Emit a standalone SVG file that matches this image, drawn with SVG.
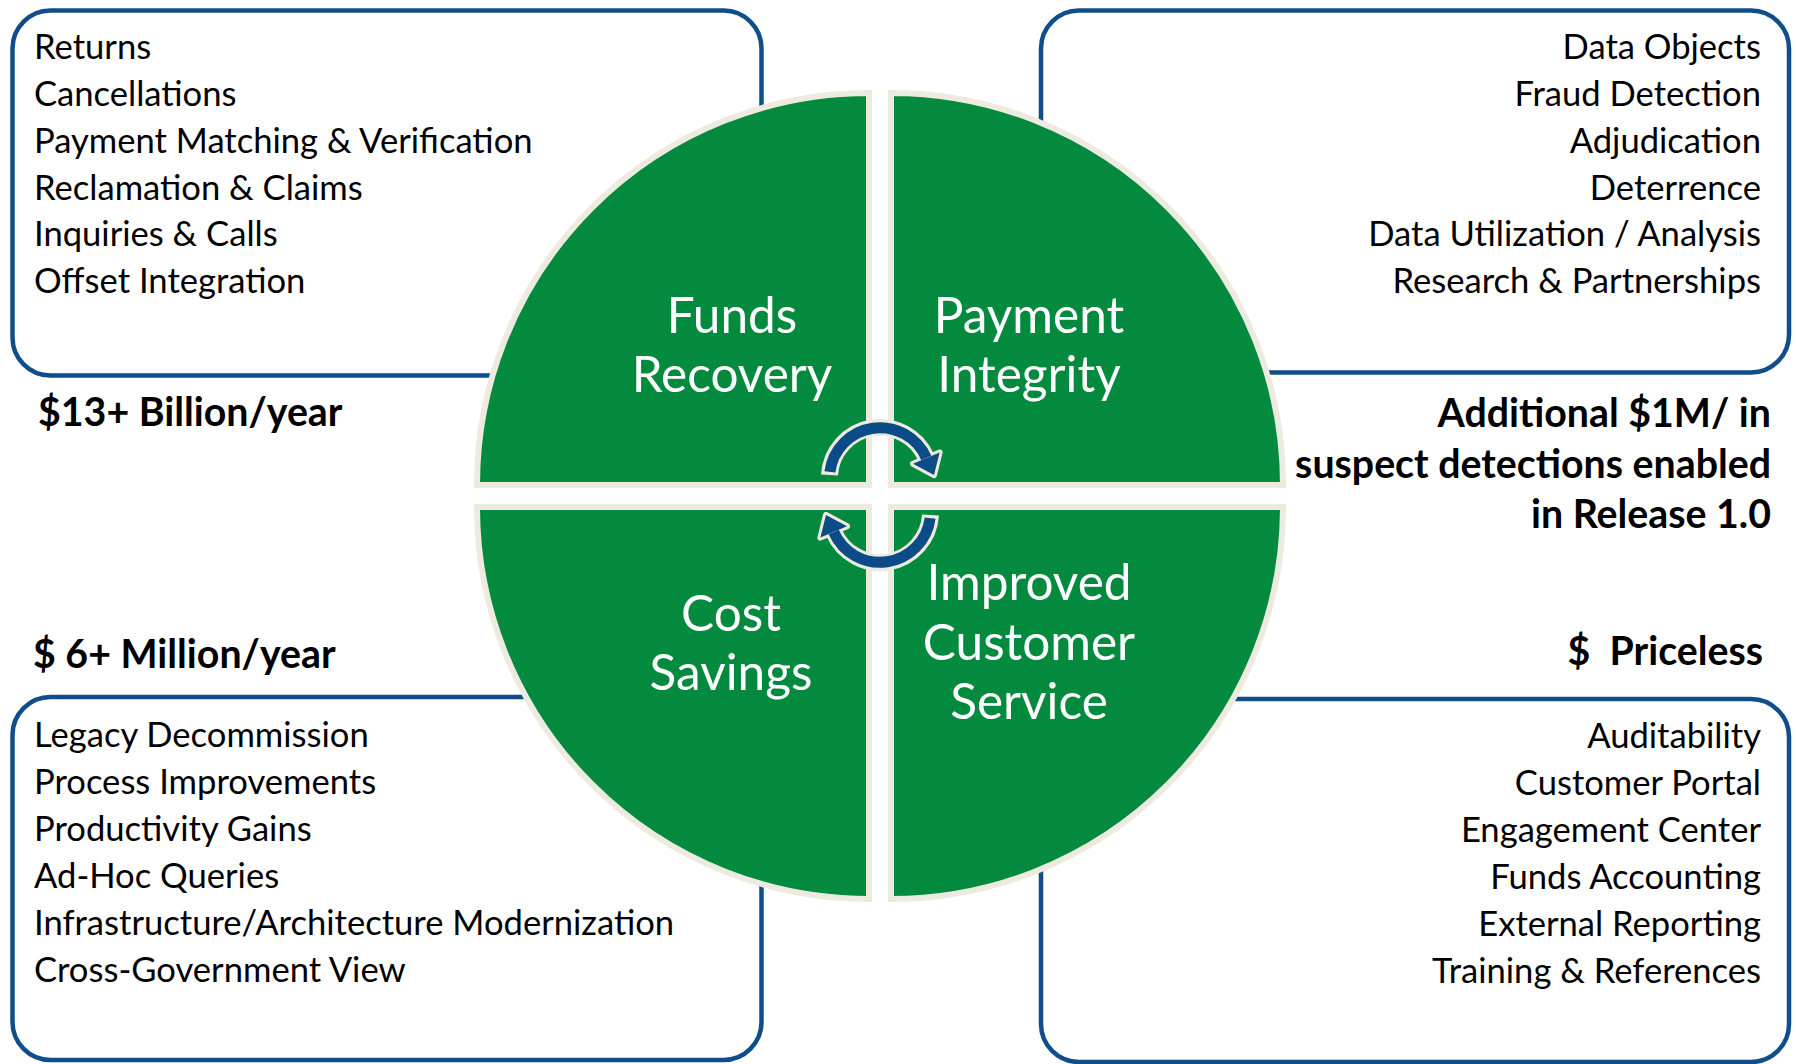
<svg xmlns="http://www.w3.org/2000/svg" width="1796" height="1064" viewBox="0 0 1796 1064">
  <defs>
    <style>
      .box { fill: #ffffff; stroke: #0f4e8b; stroke-width: 4.5; }
      .item { font-family: Lato, "Liberation Sans", sans-serif; font-size: 34.6px; fill: #000000; }
      .end { text-anchor: end; }
      .val { font-family: Lato, "Liberation Sans", sans-serif; font-size: 39.3px; font-weight: bold; fill: #000000; }
      .quad { fill: #038a3e; stroke: #edebe0; stroke-width: 6; stroke-linejoin: miter; }
      .qlabel { font-family: Lato, "Liberation Sans", sans-serif; font-size: 49.5px; fill: #ffffff; text-anchor: middle; }
      .arc-out { fill: none; stroke: #edebe0; stroke-width: 17; }
      .arc-in { fill: none; stroke: #0b4b87; stroke-width: 11; }
      .head-out { fill: #edebe0; stroke: #edebe0; stroke-width: 6; stroke-linejoin: round; }
      .head-in { fill: #0b4b87; }
    </style>
    <g id="cycle-arrow">
      <path class="arc-out" d="M 829.5 475 A 50.5 50.5 0 0 1 926.3 458"/>
      <polygon class="head-out" points="939.6,452.4 913,463.8 934,475"/>
      <path class="arc-in" d="M 829.9 471.9 A 50.5 50.5 0 0 1 926.3 458"/>
      <polygon class="head-in" points="939.6,452.4 913,463.8 934,475"/>
    </g>
  </defs>

  <g id="box-funds-recovery-items">
    <rect class="box" x="12.5" y="10.5" width="749" height="365" rx="38"/>
    <text class="item" x="34" y="59">Returns</text>
    <text class="item" x="34" y="106">Cancellations</text>
    <text class="item" x="34" y="153">Payment Matching &amp; Verification</text>
    <text class="item" x="34" y="199.5">Reclamation &amp; Claims</text>
    <text class="item" x="34" y="246">Inquiries &amp; Calls</text>
    <text class="item" x="34" y="293">Offset Integration</text>
  </g>

  <g id="box-payment-integrity-items">
    <rect class="box" x="1041" y="10.5" width="748" height="362" rx="38"/>
    <text class="item end" x="1761" y="59">Data Objects</text>
    <text class="item end" x="1761" y="106">Fraud Detection</text>
    <text class="item end" x="1761" y="153">Adjudication</text>
    <text class="item end" x="1761" y="199.5">Deterrence</text>
    <text class="item end" x="1761" y="246">Data Utilization / Analysis</text>
    <text class="item end" x="1761" y="293">Research &amp; Partnerships</text>
  </g>

  <g id="box-cost-savings-items">
    <rect class="box" x="12.5" y="697" width="749" height="363" rx="38"/>
    <text class="item" x="34" y="747">Legacy Decommission</text>
    <text class="item" x="34" y="794">Process Improvements</text>
    <text class="item" x="34" y="841">Productivity Gains</text>
    <text class="item" x="34" y="887.5">Ad-Hoc Queries</text>
    <text class="item" x="34" y="934.5">Infrastructure/Architecture Modernization</text>
    <text class="item" x="34" y="981.5">Cross-Government View</text>
  </g>

  <g id="box-customer-service-items">
    <rect class="box" x="1041" y="699" width="748" height="363" rx="38"/>
    <text class="item end" x="1761" y="748">Auditability</text>
    <text class="item end" x="1761" y="795">Customer Portal</text>
    <text class="item end" x="1761" y="842">Engagement Center</text>
    <text class="item end" x="1761" y="888.5">Funds Accounting</text>
    <text class="item end" x="1761" y="935.5">External Reporting</text>
    <text class="item end" x="1761" y="982.5">Training &amp; References</text>
  </g>

  <g id="value-funds-recovery">
    <text class="val" x="38" y="426">$13+ Billion/year</text>
  </g>
  <g id="value-payment-integrity">
    <text class="val end" x="1771" y="427">Additional $1M/ in</text>
    <text class="val end" x="1771" y="478">suspect detections enabled</text>
    <text class="val end" x="1771" y="528">in Release 1.0</text>
  </g>
  <g id="value-cost-savings">
    <text class="val" x="33" y="668">$ 6+ Million/year</text>
  </g>
  <g id="value-customer-service">
    <text class="val end" x="1763" y="665" xml:space="preserve">$  Priceless</text>
  </g>

  <g id="quadrant-funds-recovery">
    <path class="quad" d="M 869 485 L 477 485 A 392 392 0 0 1 869 93 Z"/>
    <text class="qlabel" x="732" y="333">Funds</text>
    <text class="qlabel" x="732" y="392">Recovery</text>
  </g>
  <g id="quadrant-payment-integrity">
    <path class="quad" d="M 891 485 L 891 93 A 392 392 0 0 1 1283 485 Z"/>
    <text class="qlabel" x="1029" y="333">Payment</text>
    <text class="qlabel" x="1029" y="392">Integrity</text>
  </g>
  <g id="quadrant-cost-savings">
    <path class="quad" d="M 869 507 L 869 899 A 392 392 0 0 1 477 507 Z"/>
    <text class="qlabel" x="731" y="631">Cost</text>
    <text class="qlabel" x="731" y="690">Savings</text>
  </g>
  <g id="quadrant-customer-service">
    <path class="quad" d="M 891 507 L 1283 507 A 392 392 0 0 1 891 899 Z"/>
    <text class="qlabel" x="1029" y="600">Improved</text>
    <text class="qlabel" x="1029" y="660">Customer</text>
    <text class="qlabel" x="1029" y="719">Service</text>
  </g>

  <g id="connectors">
    <use href="#cycle-arrow"/>
    <use href="#cycle-arrow" transform="rotate(180 880 495)"/>
  </g>
</svg>
